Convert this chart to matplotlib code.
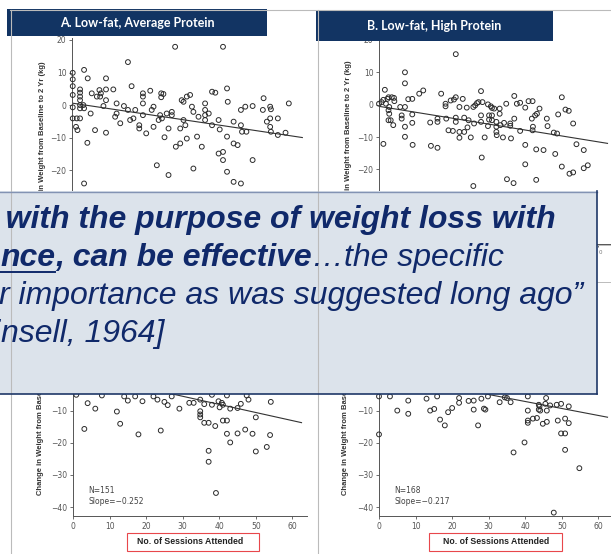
import matplotlib.pyplot as plt
from matplotlib.patches import Rectangle
import numpy as np

W, H = 611, 554

# ---- data (x = sessions attended, y = change in weight, kg) ----
a_top_x = [0.2, 0.2, 0.2, 0.2, 0.2, 0.2, 1.3, 2.2, 2.2, 2.2,
           2.2, 2.2, 2.2, 2.2, 1.1, 1.5, 3.3, 3.3, 4.3, 4.2,
           3.1, 3.3, 5.1, 6.3, 5.4, 6.8, 7.5, 7.9, 7.7, 8.6,
           9.3, 9.3, 9.3, 9.3, 11.3, 12.2, 12.2, 11.8, 13.2, 14.2,
           15.3, 15.3, 16.3, 15.9, 16.8, 17.3, 18.4, 18.4, 19.4, 19.4,
           19.4, 19.4, 20.3, 21.4, 21.8, 22.3, 22.3, 23.2, 23.7, 24.1,
           24.4, 25.0, 24.4, 24.6, 25.3, 25.9, 26.4, 26.4, 27.3, 27.3,
           28.2, 28.4, 29.6, 29.6, 30.0, 30.5, 30.5, 31.0, 31.4, 32.3,
           32.8, 31.4, 33.2, 33.2, 34.2, 34.6, 35.5, 36.4, 36.4, 36.4,
           36.4, 37.4, 38.3, 39.2, 38.3, 40.1, 40.4, 40.1, 41.3, 41.3,
           41.3, 42.4, 42.6, 42.4, 42.4, 44.2, 44.2, 45.3, 44.2, 46.2,
           46.2, 46.2, 46.5, 47.4, 47.7, 49.4, 49.4, 52.4, 52.2, 53.3,
           54.2, 54.4, 54.2, 54.2, 54.4, 56.3, 56.3, 58.4, 59.3]
a_top_y = [9.9, 7.9, 5.8, 3.1, -0.7, -4.1, -4.1, 4.8, 3.8, 2.6,
           1.5, 0.0, -1.0, -4.1, -6.7, -7.7, 10.8, -24.1, 8.2, -11.6,
           0.0, -1.0, -2.6, -7.7, 3.6, 2.6, 4.6, 3.6, 2.6, -0.3,
           8.2, 4.8, 1.5, -8.5, 4.8, 0.5, -2.6, -3.6, -5.6, -0.3,
           13.2, -1.5, 5.8, -4.6, -4.1, -1.5, -6.2, -7.2, 3.6, 2.6,
           0.5, -3.1, -8.7, 4.4, -1.5, -0.5, -6.7, -18.5, -4.6, -3.1,
           3.6, 3.4, 2.4, -4.1, -9.9, -2.6, -21.5, -7.2, -2.1, -3.1,
           17.9, -12.8, -11.8, -7.2, 1.5, 1.0, -4.6, -6.2, 2.6, 3.1,
           -0.5, -10.3, -19.5, -2.1, -9.7, -3.6, -12.8, 0.5, -1.5, -3.1,
           -4.6, -2.6, 4.1, 3.8, -6.2, -4.6, -7.5, -14.9, -14.4, -16.9,
           17.9, 5.1, 1.0, -9.7, -20.5, -5.1, -11.8, -12.3, -23.6, -24.1,
           -1.5, -6.2, -8.2, -0.5, -8.2, -0.3, -16.9, 2.1, -1.5, -5.1,
           -0.5, -1.3, -4.1, -6.7, -8.2, -9.2, -4.1, -8.5, 0.5]

b_top_x = [0.0, 0.7, 1.6, 1.2, 2.3, 2.6, 3.5, 4.1, 4.2, 1.9,
           2.8, 2.6, 2.8, 2.6, 3.2, 3.9, 1.2, 5.8, 6.2, 6.2,
           7.1, 7.1, 7.1, 7.1, 7.1, 8.0, 9.1, 9.1, 9.1, 9.2,
           11.0, 12.1, 14.0, 14.2, 16.0, 16.0, 16.0, 17.0, 18.2, 18.2,
           18.4, 19.0, 20.2, 19.6, 20.5, 21.0, 21.0, 21.0, 21.0, 22.0,
           22.0, 22.0, 22.9, 23.3, 23.3, 24.0, 24.2, 24.5, 25.1, 25.8,
           26.3, 26.8, 27.2, 26.0, 27.9, 27.9, 27.9, 28.1, 28.3, 28.9,
           29.8, 30.6, 29.8, 30.9, 30.1, 30.1, 30.9, 30.9, 31.5, 32.1,
           32.1, 32.1, 32.2, 33.0, 33.0, 33.2, 33.9, 34.2, 34.8, 35.0,
           35.9, 35.9, 36.1, 36.8, 37.0, 37.0, 37.7, 38.6, 38.6, 40.0,
           40.0, 40.0, 40.9, 42.0, 41.8, 42.1, 42.0, 42.7, 43.2, 43.0,
           43.0, 43.9, 45.0, 45.9, 46.1, 48.2, 47.8, 48.7, 49.0, 50.0,
           50.0, 51.0, 51.9, 52.1, 53.1, 53.1, 54.0, 56.0, 56.0, 57.1,
           25.8]
b_top_y = [0.3, 0.8, 4.6, 1.5, 1.8, 2.3, 2.3, 2.1, 1.1, 0.3,
           -0.7, -1.7, -2.8, -4.8, -4.8, -6.3, -12.1, -0.7, -3.3, -4.3,
           10.0, 6.6, -0.7, -6.8, -9.9, 1.7, 1.8, -3.0, -5.6, -12.4,
           3.4, 4.4, -5.5, -12.7, -13.3, -4.3, -5.3, 3.4, 0.3, -0.5,
           -4.3, -7.9, -8.1, 1.3, 1.6, 15.6, 2.3, -4.0, -5.3, -0.7,
           -8.4, -10.2, 1.8, -4.0, -8.4, -0.9, -7.0, -4.8, -10.1, -0.7,
           -0.2, 0.5, 0.8, -5.8, 4.2, -3.3, -5.3, -16.3, 0.8, -10.1,
           0.1, -0.5, -6.6, -1.0, -3.3, -4.6, -3.3, -4.8, -1.2, -5.3,
           -6.8, -8.4, -9.4, -1.2, -2.8, -6.3, -10.1, -5.6, 0.3, -23.0,
           -5.8, -6.5, -10.4, -24.2, 2.7, -4.3, 0.3, 0.6, -8.1, -0.9,
           -12.4, -18.4, 1.1, 1.1, -4.3, -6.8, -7.9, -3.3, -2.8, -13.8,
           -23.2, -1.2, -14.0, -4.3, -6.6, -15.2, -8.6, -8.9, -3.0, 2.3,
           -19.1, -1.5, -1.9, -21.3, -20.9, -5.8, -12.2, -14.0, -19.6, -18.7,
           -25.1]

a_bot_x = [0.9, 7.9, 14.0, 22.0, 27.0, 38.0, 42.1, 47.5, 4.0, 6.1,
           15.0, 12.0, 12.9, 3.1, 17.9, 19.0, 23.1, 25.0, 25.9, 24.0,
           29.1, 31.8, 33.0, 34.8, 34.8, 34.8, 34.8, 35.9, 35.9, 37.1,
           38.0, 38.9, 37.1, 37.1, 39.1, 39.8, 40.1, 40.7, 41.0, 41.0,
           42.1, 42.1, 43.0, 43.0, 45.0, 45.0, 45.9, 47.1, 48.0, 49.1,
           50.0, 50.0, 53.0, 53.9, 54.1, 17.0]
a_bot_y = [-5.1, -5.3, -5.6, -5.6, -5.6, -5.1, -5.3, -5.3, -7.7, -9.4,
           -6.9, -10.3, -14.1, -15.7, -17.4, -7.1, -6.6, -7.3, -8.3, -16.2,
           -9.4, -7.6, -7.6, -6.6, -10.2, -11.2, -12.1, -8.0, -13.8, -13.8,
           -8.2, -14.8, -22.5, -25.9, -35.6, -7.1, -9.0, -7.6, -8.2, -13.1,
           -13.1, -17.2, -19.9, -9.4, -9.2, -17.1, -7.9, -15.9, -6.6, -17.2,
           -12.1, -22.7, -21.3, -17.6, -7.3, -5.6]

b_bot_x = [0.0, 0.0, 3.0, 5.0, 8.0, 8.0, 13.0, 14.0, 15.1, 15.9,
           16.7, 18.0, 18.9, 20.0, 21.9, 21.9, 25.9, 25.9, 27.1, 28.0,
           28.7, 29.1, 29.8, 33.0, 34.4, 35.0, 36.0, 36.8, 39.8, 40.7,
           40.7, 40.7, 40.7, 42.1, 43.2, 43.7, 43.9, 43.7, 44.1, 44.8,
           45.7, 45.5, 45.9, 45.9, 46.8, 48.6, 48.9, 49.8, 49.8, 50.9,
           50.9, 50.9, 51.9, 51.9, 54.8, 47.8, 24.5]
b_bot_y = [-17.4, -5.6, -5.6, -10.0, -6.9, -11.0, -6.3, -10.0, -9.5, -5.6,
           -12.8, -14.6, -10.5, -9.2, -6.1, -7.6, -6.9, -9.7, -14.6, -6.3,
           -9.4, -9.7, -5.6, -7.4, -5.9, -6.1, -7.4, -23.0, -19.9, -5.6,
           -10.0, -13.1, -13.8, -12.5, -12.3, -9.7, -8.7, -8.2, -10.0, -14.1,
           -6.1, -7.9, -10.0, -13.5, -8.4, -8.2, -13.1, -7.9, -17.1, -17.1,
           -12.5, -22.2, -13.9, -8.7, -27.9, -41.7, -7.0]

# regression lines: intercept, slope, last x
fit_intercepts = [0.6, -0.5, 2.0, 1.5]
fit_slopes = [-0.168, -0.183, -0.252, -0.217]
fit_ends = [63, 62.5, 62.5, 62.5]

n_labels = [None, None, 'N=151', 'N=168']
slope_labels = [None, None, 'Slope=\u22120.252', 'Slope=\u22120.217']

panel_titles = ['A. Low-fat, Average Protein', 'B. Low-fat, High Protein']
ylabel = 'Change in Weight from Baseline to 2 Yr (kg)'
xlabel = 'No. of Sessions Attended'

quote_1 = 'y with the purpose of weight loss with'
quote_2 = [('nce', True), (', can be effective', True), ('\u2026the specific', False)]
quote_3 = 'r importance as was suggested long ago\u201d'
quote_4 = 'nsell, 1964]'

navy = '#10296a'

fig = plt.figure(figsize=(W / 100, H / 100), dpi=100)


def axes_px(left, top, width, height):
    return fig.add_axes([left / W, 1 - (top + height) / H, width / W, height / H])


panels = [
    (axes_px(72, 38, 234, 207), a_top_x, a_top_y, (-43, 20.6), -0.124),
    (axes_px(379, 37, 234, 207), b_top_x, b_top_y, (-43, 20.9), -0.132),
    (axes_px(73, 314, 234, 202), a_bot_x, a_bot_y, (-42.75, 19), -0.141),
    (axes_px(379, 314, 234, 202), b_bot_x, b_bot_y, (-42.75, 19), -0.145),
]

for i, (ax, xs, ys, ylim, lab_x) in enumerate(panels):
    ax.patch.set_alpha(0)
    ax.scatter(xs, ys, s=12, facecolors='none', edgecolors='#2b2b2b',
               linewidths=0.7, clip_on=False, zorder=3)
    fx = np.array([0, fit_ends[i]])
    ax.plot(fx, fit_intercepts[i] + fit_slopes[i] * fx, color='#333333', lw=0.8, zorder=2)
    ax.set_xlim(0, 64)
    ax.set_ylim(*ylim)
    ax.set_xticks(range(0, 61, 10))
    ax.set_yticks(range(-40, 21, 10))
    for s in ['top', 'right']:
        ax.spines[s].set_visible(False)
    for s in ['left', 'bottom']:
        ax.spines[s].set_color('#555555')
        ax.spines[s].set_linewidth(0.7)
    ax.tick_params(direction='out', length=2.5, width=0.6, colors='#555555',
                   labelsize=5.5, pad=1.5)
    ax.set_ylabel(ylabel, fontsize=5.5, fontweight='bold', color='#333333',
                  family='Liberation Sans')
    ax.yaxis.set_label_coords(lab_x, 0.5)
    ax.yaxis.label.set_va('center')
    if n_labels[i]:
        ax.text(4.3, -34.8, n_labels[i], fontsize=5.5, color='#444444', va='center')
        ax.text(4.3, -38.1, slope_labels[i], fontsize=5.5, color='#444444', va='center')
        ax.set_xlabel(xlabel, fontsize=6.3, fontweight='bold', color='#222222',
                      family='Liberation Sans')
        ax.xaxis.set_label_coords(0.5, -0.124)
        ax.xaxis.label.set_va('center')
    else:
        # the lower part of the upper panels sits behind the quote box
        ax.tick_params(axis='x', labelbottom=False)

# overlay in pixel coordinates for the slide decorations
ov = fig.add_axes([0, 0, 1, 1])
ov.set_xlim(0, W)
ov.set_ylim(H, 0)
ov.axis('off')
ov.set_zorder(10)
ov.patch.set_visible(False)

# gray frame lines
ov.plot([10, W], [9.5, 9.5], color='#bbbbbb', lw=0.8)
ov.plot([10.5, 10.5], [9.5, H], color='#bbbbbb', lw=0.8)
ov.plot([318, 318], [9.5, H], color='#bbbbbb', lw=0.8)
ov.plot([597, W], [245, 245], color='#bbbbbb', lw=0.7)
ov.plot([597, W], [282, 282], color='#bbbbbb', lw=0.7)
ov.text(599, 253, '0', fontsize=4, color='#777777', va='center')

# title boxes
ov.add_patch(Rectangle((7, 9), 260, 27, fc='#123463', ec='none'))
ov.add_patch(Rectangle((316, 10), 237, 31, fc='#123463', ec='none'))
ov.text(137, 23, panel_titles[0], color='white', fontsize=9, fontweight='bold',
        family='Lato', ha='center', va='center')
ov.text(434, 25.5, panel_titles[1], color='white', fontsize=9, fontweight='bold',
        family='Lato', ha='center', va='center')

# red boxes round the x labels
ov.add_patch(Rectangle((127, 533), 132, 18, fc='none', ec='#e8474b', lw=0.8))
ov.add_patch(Rectangle((429, 533), 133, 18, fc='none', ec='#e8474b', lw=0.8))

# quote box
ov.add_patch(Rectangle((-5, 191), 602, 203, fc='#dce3eb', ec='none'))
ov.plot([-5, 597], [191.5, 191.5], color='#8393b3', lw=1.0)
ov.plot([597, 597], [191, 394], color='#1f3868', lw=1.2)
ov.plot([-5, 597], [393.5, 393.5], color='#1f3868', lw=1.2)

qfont = dict(fontsize=23, color=navy, family='Liberation Sans', style='italic',
             va='baseline')
ov.text(-21, 228, quote_1, fontweight='bold', **qfont)

r = fig.canvas.get_renderer()
x = 0
for piece, bold in quote_2:
    t = ov.text(x, 266, piece, fontweight='bold' if bold else 'normal', **qfont)
    bb = t.get_window_extent(renderer=r)
    if piece == 'nce':
        ov.plot([bb.x0, bb.x1], [272, 272], color=navy, lw=1.4)
    x = bb.x1

ov.text(-1, 304, quote_3, **qfont)
ov.text(1, 342, quote_4, **qfont)
ov.text(1, 342, '[Ki', ha='right', fontsize=23, color=navy, family='Liberation Sans',
        style='italic', va='baseline')

fig.savefig('out.png', dpi=100)
